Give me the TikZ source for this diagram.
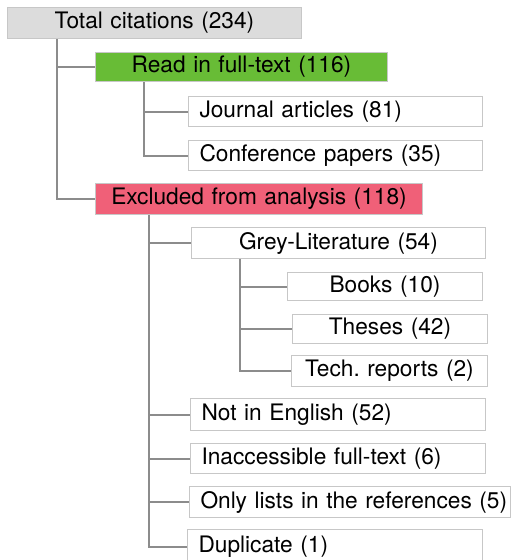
\documentclass[tikz,border=0pt]{standalone}
\usepackage{fontspec}
\setmainfont{TeX Gyre Heros}
\usepackage{tikz}
\usetikzlibrary{calc,positioning}
\frenchspacing
\definecolor{totalgrey}{RGB}{220,220,220}
\definecolor{readgreen}{RGB}{104,188,54}
\definecolor{exclpink}{RGB}{240,96,120}
\tikzstyle{element}=[
  draw=black!22,
  line width=1pt,
  font={\fontsize{22.7}{26}\selectfont},
  inner xsep=11pt,
  inner ysep=0pt,
  anchor=north west,
  rectangle,
]
\tikzstyle{elleft}=[element, align=left]
\tikzstyle{elmid}=[element, align=center]
\tikzstyle{branch}=[
  draw=black!45,
  line width=2pt,
]
\begin{document}
\begin{tikzpicture}[x=1pt,y=-1pt]
  \useasboundingbox (0,0) rectangle (511,560);
  \node (total) [elmid, fill=totalgrey, text width=272pt, minimum height=31pt] at (7,7) {Total citations (234)};
  \node (read) [elmid, fill=readgreen, text width=270pt, minimum height=29pt] at (95,52) {Read in full-text (116)};
  \node (journal) [elleft, text width=272pt, minimum height=30pt] at (188,96) {Journal articles (81)};
  \node (conf) [elleft, text width=272pt, minimum height=30pt] at (188,140) {Conference papers (35)};
  \node (excl) [elmid, fill=exclpink, text width=305pt, minimum height=31pt] at (95,183) {Excluded from analysis (118)};
  \node (grey) [elmid, text width=272pt, minimum height=31pt] at (191,227) {Grey-Literature (54)};
  \node (books) [elmid, text width=173pt, minimum height=28pt] at (287,272) {Books (10)};
  \node (theses) [elmid, text width=173pt, minimum height=29pt] at (292,314) {Theses (42)};
  \node (tech) [elmid, text width=174pt, minimum height=31pt] at (291,355) {Tech. reports (2)};
  \node (noteng) [elleft, text width=273pt, minimum height=32pt] at (190,398) {Not in English (52)};
  \node (inacc) [elleft, text width=273pt, minimum height=30pt] at (190,443) {Inaccessible full-text (6)};
  \node (onlyref) [elleft, text width=299pt, minimum height=31pt] at (189,486) {\mbox{Only lists in the references (5)}};
  \node (dup) [elleft, text width=273pt, minimum height=35pt] at (187,529) {Duplicate (1)};
  %%
  \coordinate (T) at ($(total.south west)+(50,0)$);
  \coordinate (R) at ($(read.south west)+(49,0)$);
  \coordinate (E) at ($(excl.south west)+(54,0)$);
  \coordinate (G) at ($(grey.south west)+(49,0)$);
  %%
  \draw [branch] (T) |- (read.west);
  \draw [branch] (T) |- (excl.west);
  \draw [branch] (R) |- (journal.west);
  \draw [branch] (R) |- (conf.west);
  \draw [branch] (E) |- (grey.west);
  \draw [branch] (E) |- (noteng.west);
  \draw [branch] (E) |- (inacc.west);
  \draw [branch] (E) |- (onlyref.west);
  \draw [branch] (E) |- (dup.west);
  \draw [branch] (G) |- (books.west);
  \draw [branch] (G) |- (theses.west);
  \draw [branch] (G) |- (tech.west);
\end{tikzpicture}
\end{document}
